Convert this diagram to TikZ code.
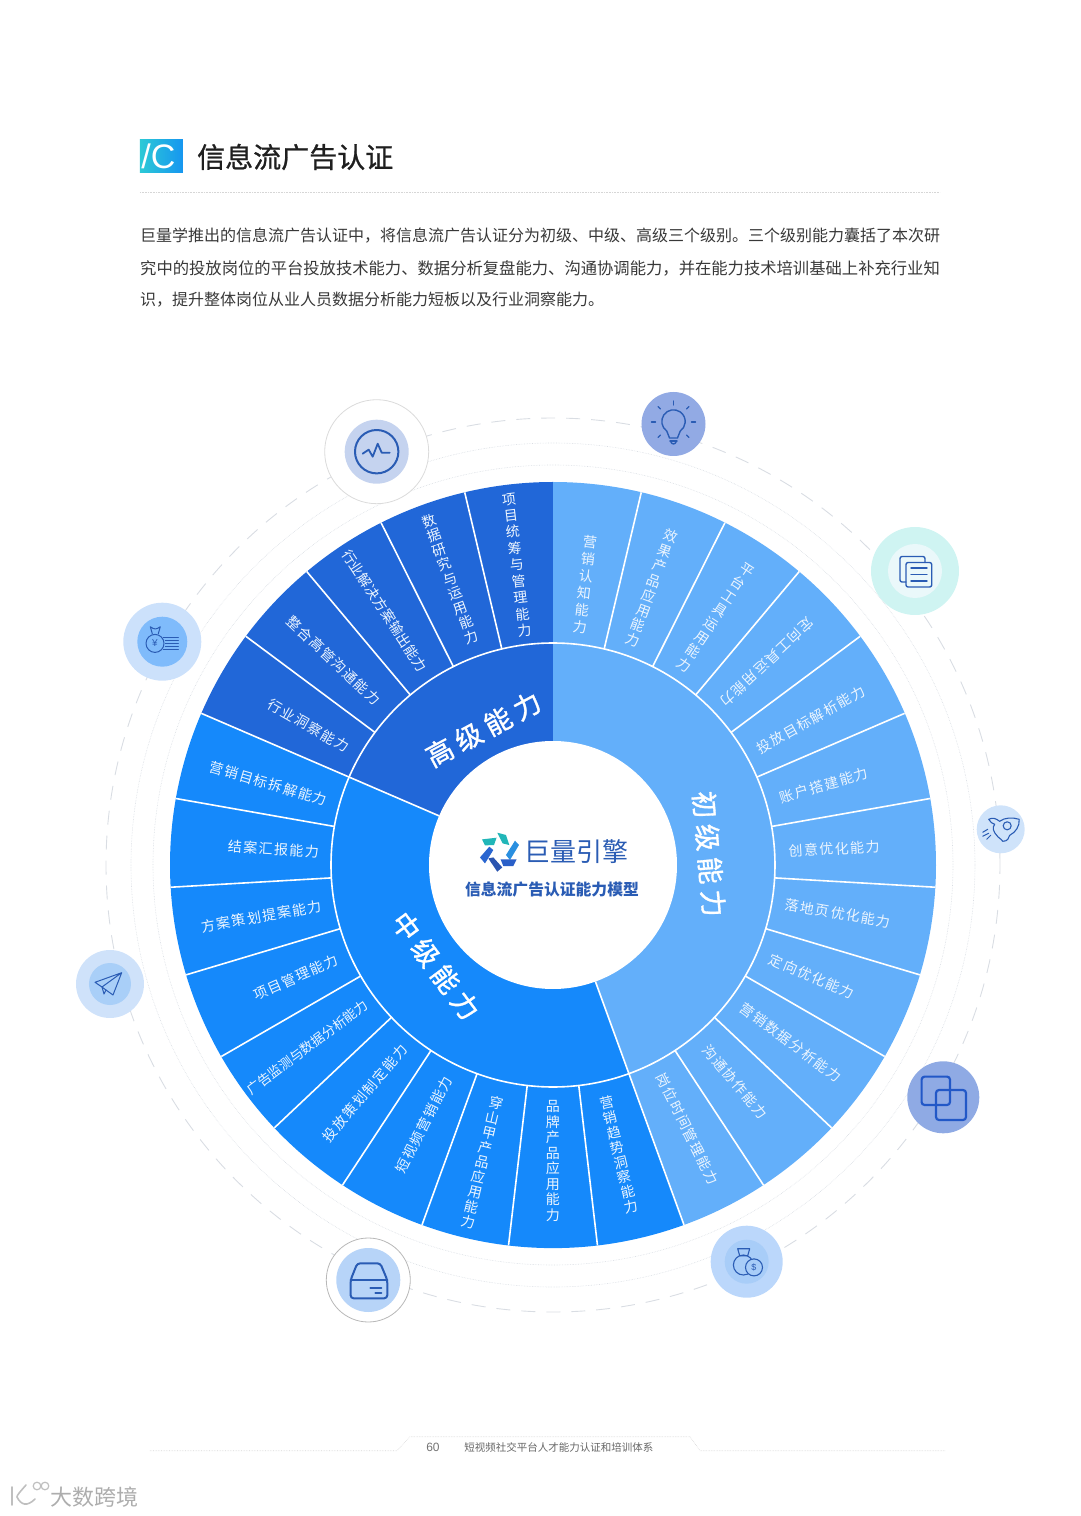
\documentclass[tikz,border=0pt]{standalone}
\usepackage{fontspec}
\usepackage{xcolor}
\usepackage{tikz}
\setmainfont{Noto Sans CJK SC}
\newfontfamily\segfont{Noto Sans CJK SC}[LetterSpace=10]
\newfontfamily\tightfont{Noto Sans CJK SC}[LetterSpace=2]
\newfontfamily\titlefont{Noto Sans CJK SC}[FakeBold=0.9]
\newfontfamily\lvlfont{Noto Sans CJK SC}[FakeBold=1.2]
\newfontfamily\latinfont{Liberation Sans}
\definecolor{seglight}{HTML}{63AFFA}
\definecolor{segmid}{HTML}{1589FB}
\definecolor{segdark}{HTML}{2167D8}
\definecolor{iconline}{HTML}{2A5CB4}
\definecolor{ringgrey}{HTML}{D9DDE3}
\makeatletter
\newcommand{\stk}[2][15.8]{\vbox{\baselineskip = #1pt \lineskip = 0pt \@tfor\stkc:=#2\do{\hbox to 15pt{\hss\stkc\hss}}}}
\makeatother
\newcommand{\lvl}[4]{#1\hspace{6pt}#2\hspace{6pt}#3\hspace{6pt}#4}
\tikzstyle{spoke} = [draw = white, line width = 1.6]
\tikzstyle{seglabel} = [draw = none, inner sep = 1, text = white!88!seglight, font = \segfont\fontsize{14}{16}\selectfont]
\tikzstyle{lvllabel} = [draw = none, inner sep = 1, text = white, font = \lvlfont\fontsize{27}{28}\selectfont]
\tikzstyle{icon} = [draw = iconline, line width = 1.4, line cap = round, line join = round]
\tikzstyle{paraline} = [draw = none, inner sep = 0, anchor = west, text = black!78]
\tikzstyle{footrule} = [draw = black!16, line width = .6, densely dotted]
\begin{document}
\begin{tikzpicture}[x = 1pt, y = 1pt]
\useasboundingbox (-553, -651) rectangle (527, 865);
% heading
\shade [left color = {rgb,255:red,44;green,201;blue,214}, right color = {rgb,255:red,22;green,150;blue,240}] (-413, 725) rectangle (-370, 692.5);
\node [draw = none, inner sep = 0, text = white, font = \latinfont\fontsize{34}{34}\selectfont] (badge) at (-394.5, 708.5) {/C};
\node [draw = none, inner sep = 0, anchor = west, text = black!88, font = \titlefont\fontsize{28}{30}\selectfont] (title) at (-356, 708) {信息流广告认证};
\draw [footrule] (-413, 673) -- (387, 673);
\node [paraline, font = \fontsize{16}{18}\selectfont] (para1) at (-413, 629) {巨量学推出的信息流广告认证中，将信息流广告认证分为初级、中级、高级三个级别。三个级别能力囊括了本次研};
\node [paraline, font = \fontsize{16.32}{18}\selectfont] (para2) at (-413, 597) {究中的投放岗位的平台投放技术能力、数据分析复盘能力、沟通协调能力，并在能力技术培训基础上补充行业知};
\node [paraline, font = \fontsize{16}{18}\selectfont] (para3) at (-413, 565) {识，提升整体岗位从业人员数据分析能力短板以及行业洞察能力。};
% guide rings
\draw [draw = ringgrey, line width = .9, dash pattern = on 14pt off 11pt] (0, 0) circle [radius = 447pt];
\draw [draw = ringgrey, line width = .6, densely dotted] (0, 0) circle [radius = 422pt];
\draw [draw = ringgrey, line width = .6, densely dotted] (0, 0) circle [radius = 400pt];
% sectors
\fill [seglight] (0, 0) -- (90:383) arc [start angle = 90, end angle = -70, radius = 383pt] -- cycle;
\fill [segmid] (0, 0) -- (-70:383) arc [start angle = -70, end angle = -203.33, radius = 383pt] -- cycle;
\fill [segdark] (0, 0) -- (156.67:383) arc [start angle = 156.67, end angle = 90, radius = 383pt] -- cycle;
\draw [spoke] (-70:124) -- (-70:383);
\draw [spoke] (156.67:124) -- (156.67:383);
\draw [spoke] (76.67:222) -- (76.67:383);
\draw [spoke] (63.33:222) -- (63.33:383);
\draw [spoke] (50:222) -- (50:383);
\draw [spoke] (36.67:222) -- (36.67:383);
\draw [spoke] (23.33:222) -- (23.33:383);
\draw [spoke] (10:222) -- (10:383);
\draw [spoke] (-3.33:222) -- (-3.33:383);
\draw [spoke] (-16.67:222) -- (-16.67:383);
\draw [spoke] (-30:222) -- (-30:383);
\draw [spoke] (-43.33:222) -- (-43.33:383);
\draw [spoke] (-56.67:222) -- (-56.67:383);
\draw [spoke] (-83.33:222) -- (-83.33:383);
\draw [spoke] (-96.67:222) -- (-96.67:383);
\draw [spoke] (-110:222) -- (-110:383);
\draw [spoke] (-123.33:222) -- (-123.33:383);
\draw [spoke] (-136.67:222) -- (-136.67:383);
\draw [spoke] (-150:222) -- (-150:383);
\draw [spoke] (-163.33:222) -- (-163.33:383);
\draw [spoke] (-176.67:222) -- (-176.67:383);
\draw [spoke] (170:222) -- (170:383);
\draw [spoke] (143.33:222) -- (143.33:383);
\draw [spoke] (130:222) -- (130:383);
\draw [spoke] (116.67:222) -- (116.67:383);
\draw [spoke] (103.33:222) -- (103.33:383);
\draw [spoke] (0, 0) circle [radius = 222pt];
\fill [white] (0, 0) circle [radius = 124pt];
% level names
\node [lvllabel, rotate = -85] (lvl1) at (156, 11) {\lvl{初}{级}{能}{力}};
\node [lvllabel, rotate = -53.3] (lvl2) at (-117.2, -100.8) {\lvl{中}{级}{能}{力}};
\node [lvllabel, rotate = 28.2] (lvl3) at (-69.7, 136) {\lvl{高}{级}{能}{力}};
% first level
\node [seglabel, rotate = -6.67] (s1) at (83.5:282) {\stk[17.2]{营销认知能力}};
\node [seglabel, rotate = -20] (s2) at (70.4:293.8) {\stk{效果产品应用能力}};
\node [seglabel, rotate = -33.33] (s3) at (56.7:296) {\stk[16.3]{平台工具运用能力}};
\node [seglabel, rotate = 223.33] (s4) at (43.4:295) {定向工具运用能力};
\node [seglabel, rotate = 29.5] (s5) at (29.4:295.7) {投放目标解析能力};
\node [seglabel, rotate = 16.5] (s6) at (16.4:282.6) {账户搭建能力};
\node [seglabel, rotate = 3.3] (s7) at (3.3:281.5) {创意优化能力};
\node [seglabel, rotate = -9.7] (s8) at (-9.6:289) {落地页优化能力};
\node [seglabel, rotate = -23.3] (s9) at (-23.3:281.8) {定向优化能力};
\node [seglabel, rotate = -36.7] (s10) at (-36.7:296.5) {营销数据分析能力};
\node [seglabel, rotate = -50] (s11) at (-50:283) {沟通协作能力};
\node [seglabel, rotate = -63.3] (s12) at (-63:296) {岗位时间管理能力};
% second level
\node [seglabel, rotate = 13.33] (m1) at (-77.2:297.4) {\stk[15.2]{营销趋势洞察能力}};
\node [seglabel, rotate = 0] (m2) at (-90:296) {\stk[15.5]{品牌产品应用能力}};
\node [seglabel, rotate = -13.33] (m3) at (-103.4:305.6) {\stk[15.2]{穿山甲产品应用能力}};
\node [seglabel, rotate = 63.33] (m4) at (-116.4:290) {短视频营销能力};
\node [seglabel, rotate = 50] (m5) at (-129.5:295.8) {投放策划制定能力};
\node [seglabel, rotate = 36.7, font = \fontsize{13.4}{16}\selectfont] (m6) at (-143.4:306) {广告监测与数据分析能力};
\node [seglabel, rotate = 23.4] (m7) at (-156.4:280.7) {项目管理能力};
\node [seglabel, rotate = 10] (m8) at (-170:295.9) {方案策划提案能力};
\node [seglabel, rotate = -3.3] (m9) at (176.7:280) {结案汇报能力};
\node [seglabel, rotate = -16.4] (m10) at (164:296) {营销目标拆解能力};
% third level
\node [seglabel, rotate = -30] (h1) at (150.3:281.6) {行业洞察能力};
\node [seglabel, rotate = -43.33] (h2) at (137:300) {整合高管沟通能力};
\node [seglabel, rotate = -56.67, font = \tightfont\fontsize{14}{16}\selectfont] (h3) at (123.5:305) {行业解决方案输出能力};
\node [seglabel, rotate = 20] (h4) at (109.8:304) {\stk[15.4]{数据研究与运用能力}};
\node [seglabel, rotate = 6.67] (h5) at (96.9:302) {\stk[16.6]{项目统筹与管理能力}};
% centre
\fill [color = {rgb,255:red,33;green,182;blue,184}] (-71, 25.6) -- (-56.4, 27.3) -- (-59, 20) -- (-68, 19.6) -- cycle;
\fill [color = {rgb,255:red,33;green,182;blue,184}] (-55.7, 32.3) -- (-47, 30) -- (-43.7, 20) -- (-50.4, 21.6) -- cycle;
\fill [color = {rgb,255:red,42;green,143;blue,224}] (-38, 24.3) -- (-34, 20) -- (-43, 5) -- (-47, 10) -- cycle;
\fill [color = {rgb,255:red,42;green,95;blue,200}] (-52.4, 5.6) -- (-36.4, 5.6) -- (-39.7, -1) -- (-49.7, -1) -- cycle;
\fill [color = {rgb,255:red,43;green,85;blue,176}] (-64.7, 6.6) -- (-59.7, 7.6) -- (-50.7, -2.4) -- (-55.7, -6.7) -- cycle;
\fill [color = {rgb,255:red,42;green,102;blue,208}] (-63.7, 18.3) -- (-59.7, 15) -- (-68, 1.6) -- (-73, 7.6) -- cycle;
\node [draw = none, inner sep = 0, text = iconline, font = \fontsize{26}{28}\selectfont] (brand) at (23.5, 13) {巨量引擎};
\node [draw = none, inner sep = 0, text = iconline, font = \bfseries\fontsize{15.8}{18}\selectfont] (model) at (-1, -25) {信息流广告认证能力模型};
% bulb
\begin{scope}[shift = {(120.5, 441)}]
\fill [color = {rgb,255:red,146;green,170;blue,228}] (0, 0) circle [radius = 32pt];
\draw [icon] (-6.7, -7.1) arc [start angle = 235, end angle = -55, radius = 11.7pt] -- (4, -14) -- (-4, -14) -- cycle;
\draw [icon] (-3.5, -17) -- (3.5, -17);
\draw [icon] (-3, -17) .. controls (-2, -21) and (2, -21) .. (3, -17);
\draw [icon] (0, 19) -- (0, 23);
\draw [icon] (13, 15) -- (15.5, 17.5);
\draw [icon] (-13, 15) -- (-15.5, 17.5);
\draw [icon] (18, 2) -- (22, 2);
\draw [icon] (-18, 2) -- (-22, 2);
\draw [icon] (13, -11) -- (15.5, -13.5);
\draw [icon] (-13, -11) -- (-15.5, -13.5);
\end{scope}
% stacked sheets
\begin{scope}[shift = {(362, 294)}]
\fill [color = {rgb,255:red,207;green,244;blue,242}] (0, 0) circle [radius = 44pt];
\fill [color = {rgb,255:red,234;green,248;blue,250}] (0, 0) circle [radius = 27pt];
\draw [icon, rounded corners = 2] (-9, -11) -- (-15, -11) -- (-15, 14.5) -- (10, 14.5) -- (10, 8.5);
\draw [icon, rounded corners = 2] (-9, 8.5) rectangle (16.7, -16);
\draw [icon] (-4, 3) -- (12, 3);
\draw [icon] (-4, -3.5) -- (12, -3.5);
\draw [icon] (-4, -10) -- (12, -10);
\end{scope}
% rocket
\begin{scope}[shift = {(447.7, 35.7)}]
\fill [color = {rgb,255:red,207;green,227;blue,250}] (0, 0) circle [radius = 24pt];
\draw [icon, line width = 1.1] (-12, 10) .. controls (-8, 12) and (-5, 11) .. (-1, 8) .. controls (4, 12) and (12, 12) .. (18.5, 10) .. controls (19, 3) and (15, -3) .. (9, -6) .. controls (8, -9) and (7, -12) .. (2, -12) .. controls (1, -10) and (-3, -8) .. (-4, -6) .. controls (-7, -3) and (-9, 2) .. (-6, 5) .. controls (-8, 6) and (-11, 7) .. (-12, 10);
\draw [icon, line width = 1.1] (6.5, 3.5) circle [radius = 4pt];
\draw [icon, line width = 1] (-18, -3) -- (-13, 0);
\draw [icon, line width = 1] (-18, -7) -- (-12, -4);
\draw [icon, line width = 1] (-14, -10) -- (-10, -6);
\end{scope}
% linked squares
\begin{scope}[shift = {(390.3, -232.3)}]
\fill [color = {rgb,255:red,143;green,170;blue,228}] (0, 0) circle [radius = 36pt];
\draw [icon, line width = 2.2, draw = {rgb,255:red,34;green,88;blue,199}, rounded corners = 3] (-21.7, 20.7) rectangle (6.7, -7.7);
\draw [icon, line width = 2.2, draw = {rgb,255:red,34;green,88;blue,199}, rounded corners = 3] (-7.3, 7.3) rectangle (22.7, -22.7);
\end{scope}
% money bag
\begin{scope}[shift = {(193.7, -396.7)}]
\fill [color = {rgb,255:red,187;green,215;blue,251}] (0, 0) circle [radius = 36pt];
\fill [color = {rgb,255:red,168;green,205;blue,248}] (0, 0) circle [radius = 22pt];
\draw [icon, line width = 1.1] (-3.3, -3.3) circle [radius = 10pt];
\draw [icon, line width = 1.1] (-7, 6) -- (-9, 13) -- (3, 13) -- (1, 6) -- cycle;
\fill [color = {rgb,255:red,168;green,205;blue,248}] (7.3, -5.7) circle [radius = 9pt];
\draw [icon, line width = 1.1] (7.3, -5.7) circle [radius = 8.5pt];
\node [draw = none, inner sep = 0, text = iconline, font = \latinfont\fontsize{9}{9}\selectfont] (dollar) at (7.3, -5.7) {\$};
\end{scope}
% drawer
\begin{scope}[shift = {(-184.7, -415)}]
\draw [draw = black!28, line width = .8, fill = white] (0, 0) circle [radius = 42pt];
\fill [color = {rgb,255:red,183;green,212;blue,248}] (0, 0) circle [radius = 32pt];
\draw [icon, line width = 2, rounded corners = 3] (-11, 16.7) -- (12, 16.7) -- (19, 0) -- (19, -18.3) -- (-17.7, -18.3) -- (-17.7, 0) -- cycle;
\draw [icon, line width = 2] (-17.7, 0) -- (19, 0);
\draw [icon, line width = 2] (2, -7.5) -- (13, -7.5);
\draw [icon, line width = 2] (7, -12.5) -- (13, -12.5);
\end{scope}
% paper plane
\begin{scope}[shift = {(-443, -119)}]
\fill [color = {rgb,255:red,207;green,226;blue,250}] (0, 0) circle [radius = 34pt];
\fill [color = {rgb,255:red,169;green,207;blue,248}] (0, 0) circle [radius = 21pt];
\draw [icon, line width = 1] (11.7, 11.3) -- (-15, 1.7) -- (-8, -3) -- (11.7, 11.3) -- (3, -11) -- (-4, -6) -- (-8, -3);
\draw [icon, line width = 1] (-8, -3) -- (-6, -10) -- (-4, -6);
\end{scope}
% coin and list
\begin{scope}[shift = {(-390.7, 223.3)}]
\fill [color = {rgb,255:red,204;green,225;blue,251}] (0, 0) circle [radius = 39pt];
\fill [color = {rgb,255:red,127;green,187;blue,251}] (0, 0) circle [radius = 25pt];
\draw [icon, line width = 1] (-7.3, -1.7) circle [radius = 9pt];
\draw [icon, line width = 1] (-10, 8) -- (-12, 15) .. controls (-8, 12) and (-6, 12) .. (-2, 15) -- (-4, 8);
\node [draw = none, inner sep = 0, text = iconline, font = \latinfont\fontsize{10}{10}\selectfont] (yen) at (-7.3, -1.7) {¥};
\draw [icon, line width = 1] (1, 4) -- (16, 4);
\draw [icon, line width = 1] (3, 1) -- (16, 1);
\draw [icon, line width = 1] (3, -2) -- (16, -2);
\draw [icon, line width = 1] (3, -5) -- (16, -5);
\draw [icon, line width = 1] (1, -8) -- (16, -8);
\end{scope}
% pulse
\begin{scope}[shift = {(-176.3, 413.3)}]
\draw [draw = black!14, line width = .8, fill = white] (0, 0) circle [radius = 52pt];
\fill [color = {rgb,255:red,197;green,211;blue,239}] (0, 0) circle [radius = 32pt];
\draw [icon, line width = 2] (0, 0) circle [radius = 21.7pt];
\draw [icon, line width = 1.8] (-14, -2) -- (-8, 2) -- (-4, -5) -- (1, 8) -- (5, -1) -- (13, -1);
\end{scope}
% footer
\draw [footrule] (-403, -585.7) -- (-156, -585.7) -- (-143, -571.7) -- (137, -571.7) -- (147, -585.7) -- (392, -585.7);
\node [draw = none, inner sep = 0, text = black!55, font = \latinfont\fontsize{12}{12}\selectfont] (pageno) at (-120, -582.5) {60};
\node [draw = none, inner sep = 0, text = black!60, font = \fontsize{10.5}{12}\selectfont] (foottext) at (6, -582.5) {短视频社交平台人才能力认证和培训体系};
% mark
\draw [draw = black!25, line width = 1.6, line cap = round] (-541, -622) -- (-541, -640);
\draw [draw = black!25, line width = 1.6, line cap = round] (-527, -620) .. controls (-533, -627) and (-536, -630) .. (-536, -632) .. controls (-532, -640) and (-526, -642) .. (-518, -634);
\draw [draw = black!25, line width = 1.2] (-516, -621) circle [radius = 3.8pt];
\draw [draw = black!25, line width = 1.2] (-508, -621) circle [radius = 3.8pt];
\node [draw = none, inner sep = 0, text = black!32, font = \fontsize{22}{24}\selectfont] (markname) at (-458, -632) {大数跨境};
\end{tikzpicture}
\end{document}
